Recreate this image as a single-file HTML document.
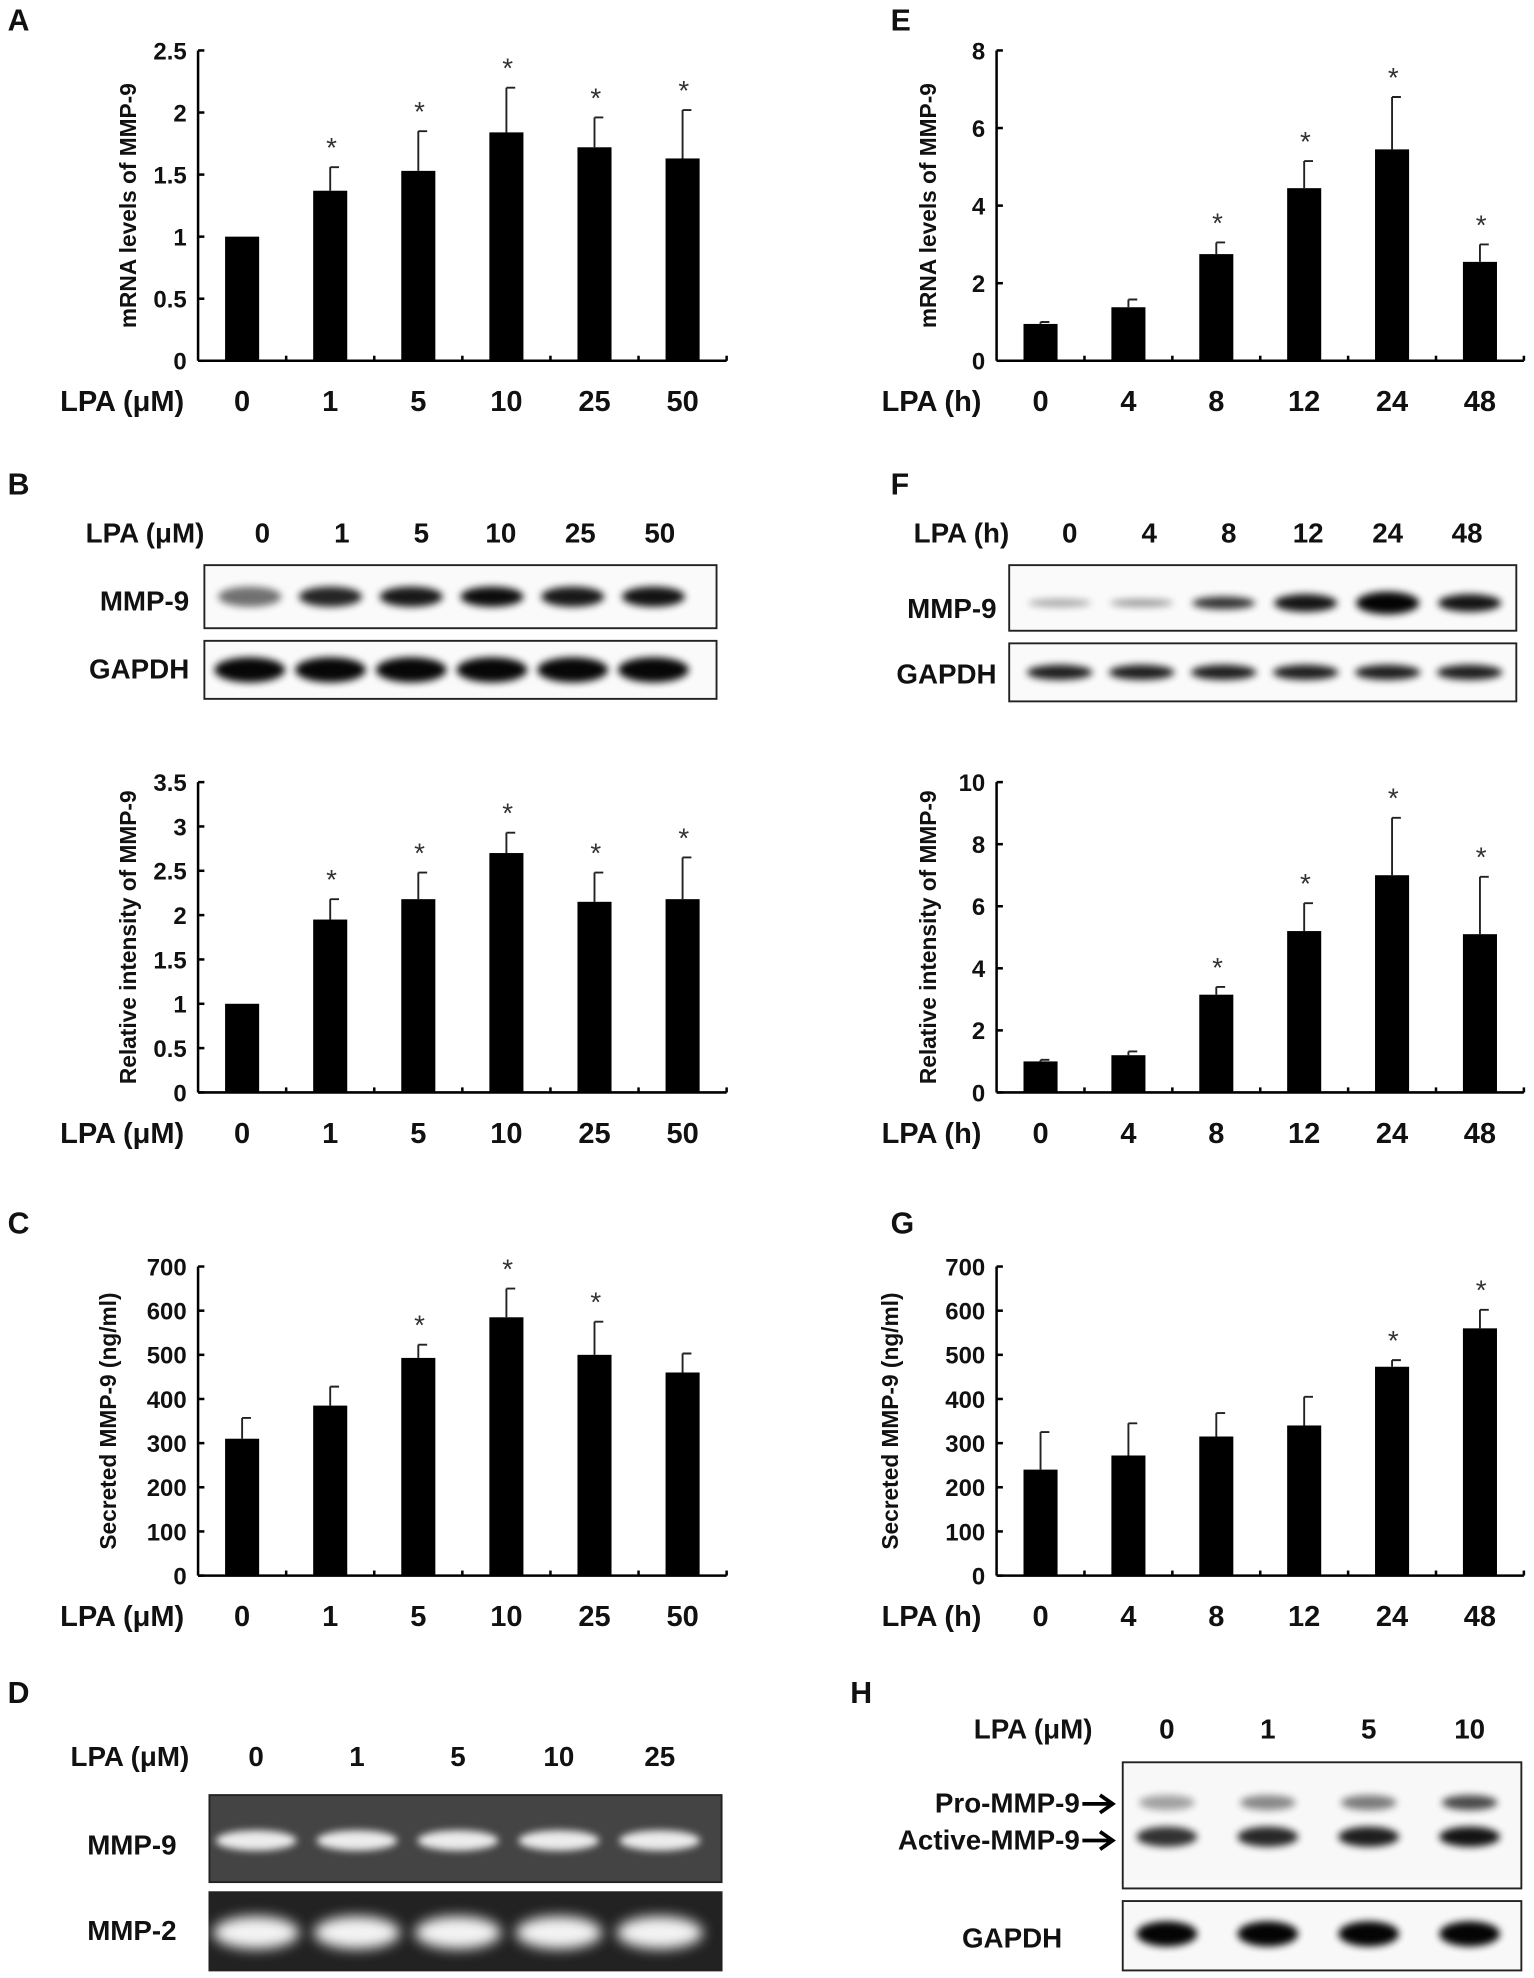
<!DOCTYPE html>
<html><head><meta charset="utf-8"><style>
html,body{margin:0;padding:0;background:#fff;}
svg{display:block;}
text{font-family:"Liberation Sans Narrow","Liberation Sans",sans-serif;font-weight:bold;fill:#111;}
.tick{font-size:19px;}
.cat{font-size:23px;}
.ytitle{font-family:"Liberation Sans",sans-serif;font-size:18px;}
.plabel{font-size:24px;}
.star{font-family:"Liberation Sans",sans-serif;font-size:22px;fill:#333;font-weight:normal;}
</style></head><body>
<svg id="fig" width="1534" height="1978" viewBox="0 0 1216 1568" xmlns="http://www.w3.org/2000/svg">
<defs>
<filter id="blur3" x="-50%" y="-100%" width="200%" height="300%"><feGaussianBlur stdDeviation="3"/></filter>
<filter id="blur5" x="-50%" y="-100%" width="200%" height="300%"><feGaussianBlur stdDeviation="5"/></filter>
</defs>
<g id="root"></g>
</svg>
<script>
// ---------- chart data ----------
const catsUM = ["0","1","5","10","25","50"];
const catsH = ["0","4","8","12","24","48"];
const aValues = [1, 1.37, 1.53, 1.84, 1.72, 1.63];
const aErrors = [0, 0.19, 0.32, 0.36, 0.24, 0.39];
const aStars = [false, true, true, true, true, true];
const aTicks = ["0","0.5","1","1.5","2","2.5"];
const eValues = [0.95, 1.38, 2.75, 4.45, 5.45, 2.55];
const eErrors = [0.05, 0.2, 0.3, 0.7, 1.35, 0.45];
const eStars = [false, false, true, true, true, true];
const eTicks = ["0","2","4","6","8"];
const bValues = [1, 1.95, 2.18, 2.7, 2.15, 2.18];
const bErrors = [0, 0.23, 0.3, 0.23, 0.33, 0.47];
const bStars = [false, true, true, true, true, true];
const bTicks = ["0","0.5","1","1.5","2","2.5","3","3.5"];
const fValues = [1, 1.2, 3.15, 5.2, 7.0, 5.1];
const fErrors = [0.05, 0.12, 0.25, 0.9, 1.85, 1.85];
const fStars = [false, false, true, true, true, true];
const fTicks = ["0","2","4","6","8","10"];
const cValues = [310, 385, 493, 585, 500, 460];
const cErrors = [47, 43, 30, 65, 75, 43];
const cStars = [false, false, true, true, true, false];
const cTicks = ["0","100","200","300","400","500","600","700"];
const gValues = [240, 272, 315, 340, 473, 560];
const gErrors = [85, 73, 53, 65, 15, 42];
const gStars = [false, false, false, false, true, true];
const gTicks = ["0","100","200","300","400","500","600","700"];

const NS = "http://www.w3.org/2000/svg";
const root = document.getElementById('root');
function el(tag, attrs, parent, txt){
  const e = document.createElementNS(NS, tag);
  for (const k in attrs) e.setAttribute(k, attrs[k]);
  if (txt !== undefined) e.textContent = txt;
  (parent||root).appendChild(e);
  return e;
}

function chart(o){
  const g = el('g', {});
  
  
  const x0 = o.x0, x1 = o.x1, yTop = o.yTop, yBot = o.yBot;
  const maxV = parseFloat(o.ticks[o.ticks.length-1]);
  const yScale = v => yBot - (v/maxV)*(yBot-yTop);
  const n = o.cats.length;
  const step = (x1 - x0)/n;
  const xScale = i => x0 + step*(i+0.5);
  const ya = el('line', {x1:x0, y1:yTop, x2:x0, y2:yBot, stroke:'#000','stroke-width':2}, g);
  
  
  o.ticks.forEach(t => {
    const y = yScale(parseFloat(t));
    el('line', {x1:x0, y1:y, x2:x0+5, y2:y, stroke:'#000','stroke-width':2}, g);
    const tl = el('text', {x:x0-9, y:y+7, 'text-anchor':'end', class:'tick'}, g, t);
    
    
  });
  const xa = el('line', {x1:x0, y1:yBot, x2:x1, y2:yBot, stroke:'#000','stroke-width':2}, g);
  
  
  for (let i=1;i<=n;i++){
    const xx = x0 + step*i;
    el('line', {x1:xx, y1:yBot, x2:xx, y2:yBot-4, stroke:'#000','stroke-width':2}, g);
  }
  const bw = 27;
  o.values.forEach((v,i) => {
    const cx = xScale(i);
    const yv = yScale(v);
    const r = el('rect', {x:cx-bw/2, y:yv, width:bw, height:yBot-yv, fill:'#000'}, g);
    
    
    if (o.errors[i] > 0){
      const ye = yScale(v + o.errors[i]);
      const eb = el('path', {d:`M${cx},${yv} V${ye} M${cx},${ye} H${cx+7}`, stroke:'#222','stroke-width':1.5, fill:'none'}, g);
      
      
    }
    if (o.stars[i]){
      const ys = yScale(v + o.errors[i]) - 8;
      const s = el('text', {x:cx+1, y:ys, 'text-anchor':'middle', class:'star'}, g, '*');
      
      
    }
    const cl = el('text', {x:cx, y:yBot+40, 'text-anchor':'middle', class:'cat'}, g, o.cats[i]);
    
    
  });
  const xt = el('text', {x:o.xTitleX, y:yBot+40, 'text-anchor':'end', class:'cat'}, g, o.xTitle);
  
  
  const ymid = (yTop+yBot)/2;
  const yt = el('text', {x:o.yTitleX, y:ymid, 'text-anchor':'middle', class:'ytitle', transform:`rotate(-90 ${o.yTitleX} ${ymid})`}, g, o.yTitle);
  
  
}

function plabel(t, x, y){
  const p = el('text', {x:x, y:y, class:'plabel'}, root, t);
  
  
}

plabel('A', 6, 24); plabel('E', 706, 24);
plabel('B', 6, 392); plabel('F', 706, 392);
plabel('C', 6, 978); plabel('G', 706, 978);
plabel('D', 6, 1350); plabel('H', 674, 1350);

chart({name:'chart-a', x0:157, x1:576, yTop:40, yBot:286, cats:catsUM, values:aValues, errors:aErrors, stars:aStars, ticks:aTicks, xTitle:'LPA (μM)', xTitleX:146, yTitle:'mRNA levels of MMP-9', yTitleX:108});
chart({name:'chart-e', x0:790, x1:1208, yTop:40, yBot:286, cats:catsH, values:eValues, errors:eErrors, stars:eStars, ticks:eTicks, xTitle:'LPA (h)', xTitleX:778, yTitle:'mRNA levels of MMP-9', yTitleX:742});
chart({name:'chart-b', x0:157, x1:576, yTop:620, yBot:866, cats:catsUM, values:bValues, errors:bErrors, stars:bStars, ticks:bTicks, xTitle:'LPA (μM)', xTitleX:146, yTitle:'Relative intensity of MMP-9', yTitleX:108});
chart({name:'chart-f', x0:790, x1:1208, yTop:620, yBot:866, cats:catsH, values:fValues, errors:fErrors, stars:fStars, ticks:fTicks, xTitle:'LPA (h)', xTitleX:778, yTitle:'Relative intensity of MMP-9', yTitleX:742});
chart({name:'chart-c', x0:157, x1:576, yTop:1004, yBot:1249, cats:catsUM, values:cValues, errors:cErrors, stars:cStars, ticks:cTicks, xTitle:'LPA (μM)', xTitleX:146, yTitle:'Secreted MMP-9   (ng/ml)', yTitleX:92});
chart({name:'chart-g', x0:790, x1:1208, yTop:1004, yBot:1249, cats:catsH, values:gValues, errors:gErrors, stars:gStars, ticks:gTicks, xTitle:'LPA (h)', xTitleX:778, yTitle:'Secreted MMP-9   (ng/ml)', yTitleX:712});

// ---------- blots ----------
function txt(s, x, y, anchor, size, name){
  const t = el('text', {x:x, y:y, 'text-anchor':anchor, style:`font-size:${size}px`}, root, s);
  
  
  return t;
}
function box(x,y,w,h,fill,name){
  const r = el('rect', {x:x, y:y, width:w, height:h, fill:fill, stroke:'#222', 'stroke-width':1.5});
  
  
}
function band(cx, cy, rx, ry, color, op, filt){
  const b = el('ellipse', {cx:cx, cy:cy, rx:rx, ry:ry, fill:color, opacity:op, filter:`url(#${filt})`});
  
  
}

// B blot
txt('LPA (μM)', 162, 430, 'end', 22, 'blot-b-header');
catsUM.forEach((c,i)=>txt(c, 208 + i*63, 430, 'middle', 22, 'blot-b-lane-label'));
box(162, 448, 406, 50, '#fafafa', 'blot-b-mmp9');
box(162, 508, 406, 46, '#fafafa', 'blot-b-gapdh');
txt('MMP-9', 150, 484, 'end', 22, 'blot-b-mmp9-label');
txt('GAPDH', 150, 538, 'end', 22, 'blot-b-gapdh-label');
const bBandOp = [0.55, 0.85, 0.9, 0.95, 0.9, 0.92];
for (let i=0;i<6;i++){
  const cx = 198 + i*64;
  band(cx, 473, 25, 8, '#000', bBandOp[i], 'blur3');
  band(cx, 531, 28, 10, '#000', 0.97, 'blur3');
}

// F blot
txt('LPA (h)', 800, 430, 'end', 22, 'blot-f-header');
catsH.forEach((c,i)=>txt(c, 848 + i*63, 430, 'middle', 22, 'blot-f-lane-label'));
box(800, 448, 402, 52, '#fafafa', 'blot-f-mmp9');
box(800, 510, 402, 46, '#fafafa', 'blot-f-gapdh');
txt('MMP-9', 790, 490, 'end', 22, 'blot-f-mmp9-label');
txt('GAPDH', 790, 542, 'end', 22, 'blot-f-gapdh-label');
const fBandOp = [0.35, 0.4, 0.8, 0.92, 0.98, 0.92];
const fBandRy = [3, 3, 5, 7, 9, 7];
for (let i=0;i<6;i++){
  const cx = 840 + i*65;
  band(cx, 478, 25, fBandRy[i], '#000', fBandOp[i], 'blur3');
  band(cx, 533, 26, 6, '#000', 0.88, 'blur3');
}

// D gel
const catsD = ["0","1","5","10","25"];
txt('LPA (μM)', 150, 1400, 'end', 22, 'gel-d-header');
catsD.forEach((c,i)=>txt(c, 203 + i*80, 1400, 'middle', 22, 'gel-d-lane-label'));
box(166, 1423, 406, 69, '#444', 'gel-d-mmp9');
box(166, 1500, 406, 62, '#222', 'gel-d-mmp2');
txt('MMP-9', 140, 1470, 'end', 22, 'gel-d-mmp9-label');
txt('MMP-2', 140, 1538, 'end', 22, 'gel-d-mmp2-label');
for (let i=0;i<5;i++){
  const cx = 203 + i*80;
  band(cx, 1459, 32, 8, '#fff', 0.9, 'blur3');
  band(cx, 1532, 34, 13, '#fff', 0.95, 'blur5');
}

// H zymogram
const catsHz = ["0","1","5","10"];
txt('LPA (μM)', 866, 1378, 'end', 22, 'blot-h-header');
catsHz.forEach((c,i)=>txt(c, 925 + i*80, 1378, 'middle', 22, 'blot-h-lane-label'));
box(890, 1397, 316, 100, '#f8f8f8', 'blot-h-mmp9');
box(890, 1507, 316, 55, '#f8f8f8', 'blot-h-gapdh');
txt('Pro-MMP-9', 856, 1437, 'end', 22, 'pro-mmp9-label');
txt('Active-MMP-9', 856, 1466, 'end', 22, 'active-mmp9-label');
const arrows = el('path', {d:'M858,1430 H880 M872,1423 L882,1430 L872,1437 M858,1459 H880 M872,1452 L882,1459 L872,1466', stroke:'#000', 'stroke-width':3, fill:'none'});


txt('GAPDH', 842, 1544, 'end', 22, 'blot-h-gapdh-label');
const hProOp = [0.35, 0.45, 0.5, 0.7];
for (let i=0;i<4;i++){
  const cx = 925 + i*80;
  band(cx, 1429, 22, 6, '#000', hProOp[i], 'blur3');
  band(cx, 1456, 24, 8, '#000', 0.8 + i*0.04, 'blur3');
  band(cx, 1533, 24, 10, '#000', 0.98, 'blur3');
}
</script>
</body></html>
